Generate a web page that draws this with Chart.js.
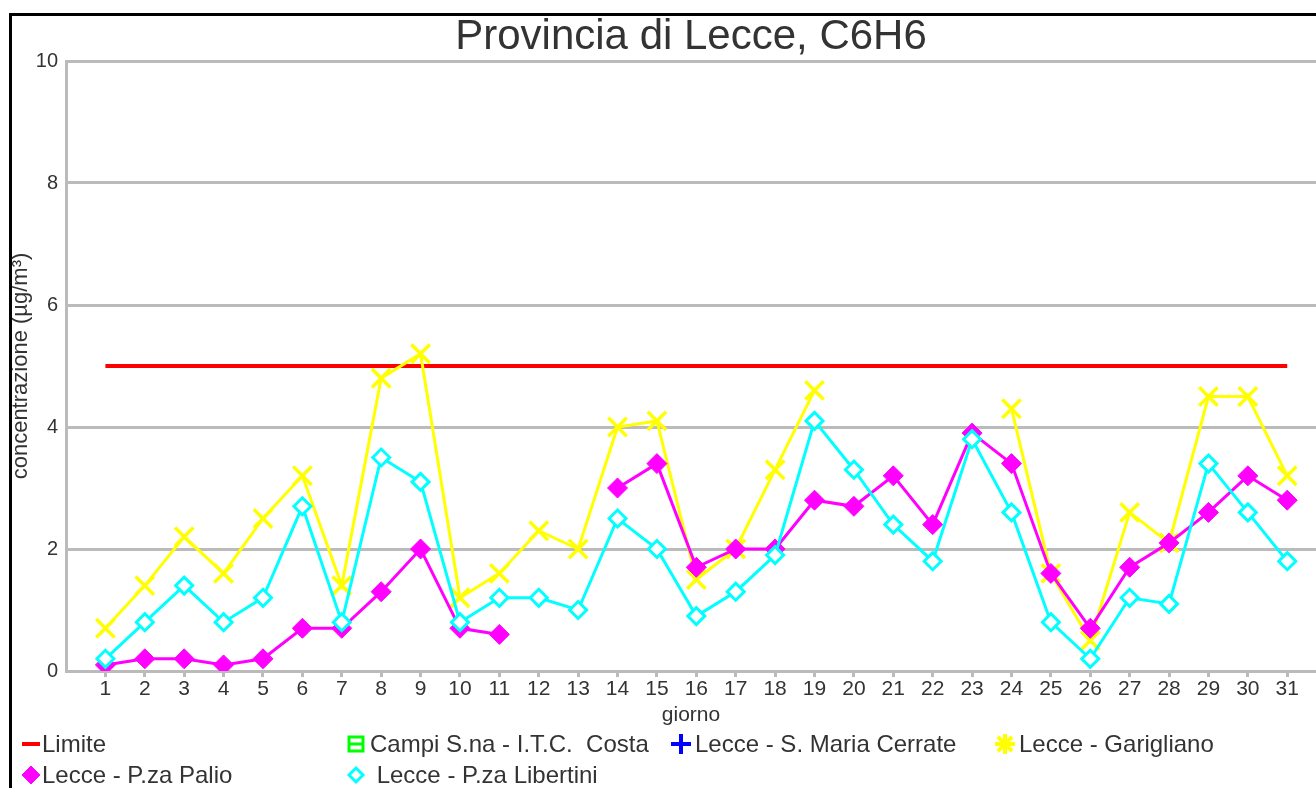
<!DOCTYPE html>
<html>
<head>
<meta charset="utf-8">
<script src="https://cdn.jsdelivr.net/npm/chart.js@4/dist/chart.umd.min.js"></script>
<style>
    html, body { margin: 0; padding: 0; background: #fff; }
    #wrap { position: absolute; left: 0; top: 0; width: 1316px; height: 788px; }
</style>
</head>
<body>
<div id="wrap"><canvas id="c6h6Chart" width="1316" height="788"></canvas></div>
<script>
// Dati: giorni del mese e concentrazioni C6H6 (µg/m³)
const giorni = Array.from({ length: 31 }, (_, i) => i + 1);
const limite = giorni.map(() => 5);
const campiCosta = giorni.map(() => null);
const mariaCerrate = giorni.map(() => null);
const garigliano = [0.7, 1.4, 2.2, 1.6, 2.5, 3.2, 1.4, 4.8, 5.2, 1.2, 1.6, 2.3, 2.0, 4.0, 4.1, 1.5,
    2.0, 3.3, 4.6, null, null, null, null, 4.3, 1.6, 0.5, 2.6, 2.1, 4.5, 4.5, 3.2];
const palio = [0.1, 0.2, 0.2, 0.1, 0.2, 0.7, 0.7, 1.3, 2.0, 0.7, 0.6, null, null, 3.0, 3.4, 1.7,
    2.0, 2.0, 2.8, 2.7, 3.2, 2.4, 3.9, 3.4, 1.6, 0.7, 1.7, 2.1, 2.6, 3.2, 2.8];
const libertini = [0.2, 0.8, 1.4, 0.8, 1.2, 2.7, 0.8, 3.5, 3.1, 0.8, 1.2, 1.2, 1.0, 2.5, 2.0, 0.9,
    1.3, 1.9, 4.1, 3.3, 2.4, 1.8, 3.8, 2.6, 0.8, 0.2, 1.2, 1.1, 3.4, 2.6, 1.8];
const yTicks = [0, 2, 4, 6, 8, 10];

const FONT = "'Liberation Sans', Arial, sans-serif";
const TEXT = '#333333';
const GRID = '#bbbbbb';

function punti(values) {
    return values.map((v, i) => ({ x: giorni[i], y: v }));
}

// Legenda disegnata a griglia come nell'originale
const legendaGriglia = {
    id: 'legendaGriglia',
    afterDraw(chart) {
        const ctx = chart.ctx;
        const cols = [{ m: 31, t: 42 }, { m: 356, t: 370 }, { m: 681, t: 695 }, { m: 1005, t: 1019 }];
        const rows = [744, 775];
        ctx.save();
        ctx.font = '24px ' + FONT;
        ctx.textBaseline = 'middle';
        ctx.fillStyle = TEXT;
        chart.data.datasets.forEach((ds, i) => {
            const c = cols[i % 4];
            const y = rows[Math.floor(i / 4)];
            const lg = ds.legendMarker;
            ctx.save();
            ctx.strokeStyle = ds.borderColor;
            ctx.fillStyle = lg.fill;
            ctx.lineWidth = lg.width;
            if (lg.style === 'line') {
                ctx.beginPath();
                ctx.moveTo(c.m - 9, y);
                ctx.lineTo(c.m + 9, y);
                ctx.stroke();
            } else if (lg.style === 'box') {
                ctx.strokeRect(c.m - 7, y - 7, 14, 14);
                ctx.beginPath();
                ctx.moveTo(c.m - 7, y);
                ctx.lineTo(c.m + 7, y);
                ctx.stroke();
            } else {
                Chart.helpers.drawPoint(ctx, { pointStyle: lg.style, radius: lg.radius, borderWidth: lg.width, rotation: 0 }, c.m, y);
            }
            ctx.restore();
            ctx.fillText(ds.label, c.t, y + 1);
        });
        // cornice nera
        ctx.fillStyle = '#000';
        ctx.fillRect(9, 13, 1307, 3);
        ctx.fillRect(9, 13, 3, 775);
        ctx.restore();
    }
};

const ctx = document.getElementById('c6h6Chart');
new Chart(ctx, {
    type: 'line',
    data: {
        datasets: [
            {
                label: 'Limite',
                data: punti(limite),
                borderColor: '#ff0000',
                borderWidth: 4,
                pointRadius: 0,
                order: 4,
                legendMarker: { style: 'line', width: 4, fill: '#ff0000' }
            },
            {
                label: 'Campi S.na - I.T.C.  Costa',
                data: punti(campiCosta),
                borderColor: '#00ff00',
                borderWidth: 3,
                pointRadius: 0,
                order: 5,
                legendMarker: { style: 'box', width: 3, fill: '#00ff00' }
            },
            {
                label: 'Lecce - S. Maria Cerrate',
                data: punti(mariaCerrate),
                borderColor: '#0000ff',
                borderWidth: 3,
                pointRadius: 0,
                order: 6,
                legendMarker: { style: 'cross', radius: 10, width: 4, fill: '#0000ff' }
            },
            {
                label: 'Lecce - Garigliano',
                data: punti(garigliano),
                borderColor: '#ffff00',
                backgroundColor: '#ffff00',
                borderWidth: 3,
                pointStyle: 'crossRot',
                pointRadius: 13,
                pointBorderWidth: 3.5,
                order: 3,
                legendMarker: { style: 'star', radius: 10, width: 4, fill: '#ffff00' }
            },
            {
                label: 'Lecce - P.za Palio',
                data: punti(palio),
                borderColor: '#ff00ff',
                backgroundColor: '#ff00ff',
                borderWidth: 3,
                pointStyle: 'rectRot',
                pointRadius: 10,
                pointBorderWidth: 1,
                order: 2,
                legendMarker: { style: 'rectRot', radius: 9, width: 1, fill: '#ff00ff' }
            },
            {
                label: ' Lecce - P.za Libertini',
                data: punti(libertini),
                borderColor: '#00ffff',
                backgroundColor: '#ffffff',
                borderWidth: 3,
                pointStyle: 'rectRot',
                pointRadius: 8.5,
                pointBorderWidth: 3,
                order: 1,
                legendMarker: { style: 'rectRot', radius: 7, width: 3, fill: '#ffffff' }
            }
        ]
    },
    options: {
        responsive: false,
        animation: false,
        spanGaps: false,
        layout: { autoPadding: false, padding: { left: 0, right: 0, top: 0, bottom: 57 } },
        plugins: {
            legend: { display: false },
            tooltip: { enabled: false },
            title: {
                display: true,
                fullSize: false,
                text: 'Provincia di Lecce, C6H6',
                color: TEXT,
                font: { family: FONT, size: 42, weight: 'normal', lineHeight: 1.0 },
                padding: { top: 16, bottom: 3 }
            }
        },
        scales: {
            x: {
                type: 'linear',
                min: 0,
                max: 31.73,
                afterBuildTicks: (scale) => { scale.ticks = giorni.map(g => ({ value: g })); },
                afterFit: (scale) => {
                    scale.height = 60;
                    scale.paddingLeft = 0;
                    scale.paddingRight = 0;
                },
                grid: { drawOnChartArea: false, color: GRID, lineWidth: 3, tickLength: 6 },
                border: { color: GRID, width: 3 },
                ticks: {
                    color: TEXT,
                    padding: 0,
                    maxRotation: 0,
                    autoSkip: false,
                    font: { family: FONT, size: 21 }
                },
                title: {
                    display: true,
                    text: 'giorno',
                    color: TEXT,
                    font: { family: FONT, size: 21 },
                    padding: { top: 0, bottom: 3.4 }
                }
            },
            y: {
                min: 0,
                max: 10,
                afterBuildTicks: (scale) => { scale.ticks = yTicks.map(v => ({ value: v })); },
                afterFit: (scale) => { scale.width = 66; },
                grid: { color: GRID, lineWidth: 3, drawTicks: false },
                border: { color: GRID, width: 3 },
                ticks: {
                    color: TEXT,
                    padding: 8,
                    font: { family: FONT, size: 20 }
                },
                title: {
                    display: true,
                    text: 'concentrazione (µg/m³)',
                    color: TEXT,
                    font: { family: FONT, size: 22 },
                    padding: { top: 8, bottom: 0 }
                }
            }
        }
    },
    plugins: [legendaGriglia]
});
</script>
</body>
</html>
